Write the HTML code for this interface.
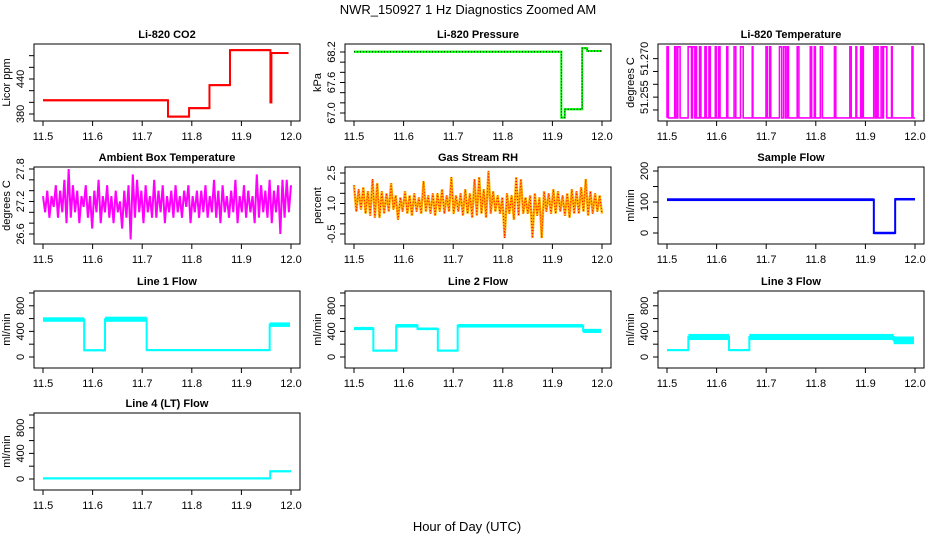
<!DOCTYPE html>
<html><head><meta charset="utf-8">
<style>
html,body{margin:0;padding:0;background:#fff;}
svg{display:block;font-family:"Liberation Sans",Arial,sans-serif;}
</style></head>
<body>
<svg id="chart" width="936" height="540" viewBox="0 0 936 540" xmlns="http://www.w3.org/2000/svg">
<rect x="0" y="0" width="936" height="540" fill="#fff"/>
<text x="468" y="14" font-size="13" text-anchor="middle">NWR_150927  1 Hz Diagnostics Zoomed AM</text>
<text x="467" y="531" font-size="13" text-anchor="middle">Hour of Day (UTC)</text>
</svg>
<script>
const xTicks=[11.5,11.6,11.7,11.8,11.9,12.0];
const xTickLabels=["11.5","11.6","11.7","11.8","11.9","12.0"];

const co2Start=[11.5,11.752,11.7945,11.8356,11.877,11.9585,11.9605];
const co2End=[11.752,11.7945,11.8356,11.877,11.9585,11.9605,11.995];
const co2Lo=[402,374,389,428,488,400,483];
const co2Hi=[405,377,391,431,491,400,486];

const presStart=[11.5,11.918,11.925,11.96,11.97];
const presEnd=[11.918,11.925,11.96,11.97,12.0];
const presLo=[68.19,66.89,67.06,68.26,68.21];
const presHi=[68.22,66.93,67.09,68.29,68.23];

const tempLow=51.2469, tempHigh=51.2746;
const tempSpikeStart=[11.5,11.5156,11.5217,11.5426,11.5514,11.5582,11.5656,11.5765,11.5846,11.5974,11.6042,11.6204,11.6353,11.6482,11.6719,11.6996,11.7070,11.7267,11.7355,11.7429,11.7625,11.7889,11.7970,11.8092,11.8376,11.8687,11.8809,11.8904,11.8931,11.9168,11.9229,11.9317,11.9364,11.9527,11.9939];
const tempSpikeEnd=[11.5027,11.5183,11.5264,11.5494,11.5562,11.5595,11.5683,11.5792,11.5873,11.5995,11.6069,11.6225,11.6387,11.6536,11.6732,11.7023,11.7091,11.7314,11.7395,11.7449,11.7659,11.7916,11.7991,11.8133,11.8403,11.8714,11.8823,11.8917,11.8958,11.9202,11.9256,11.9351,11.9432,11.9540,11.9959];

const ambValues=[27.3,27.0,27.4,26.9,27.3,27.1,27.5,26.9,27.4,27.0,27.6,26.8,27.8,26.9,27.5,27.0,27.4,26.8,27.3,27.1,27.5,26.9,27.3,26.7,27.4,27.0,27.6,26.8,27.3,27.0,27.5,26.9,27.3,26.8,27.4,27.0,27.2,26.7,27.4,26.9,27.5,26.5,27.7,26.9,27.6,27.0,27.4,26.8,27.5,27.0,27.3,26.9,27.6,26.9,27.4,27.0,27.5,26.8,27.3,27.0,27.4,26.9,27.5,27.0,27.3,26.9,27.4,27.1,27.5,26.8,27.3,27.0,27.4,26.9,27.4,27.0,27.5,26.9,27.3,27.0,27.6,26.9,27.4,26.8,27.5,27.0,27.3,26.9,27.4,27.0,27.6,26.8,27.3,27.0,27.5,26.9,27.4,27.0,27.3,26.8,27.7,26.9,27.5,27.0,27.4,26.9,27.6,26.8,27.4,27.0,27.5,26.6,27.6,26.9,27.6,27.0,27.5];

const rhValues=[1.9,0.6,1.7,0.7,1.8,0.5,1.6,0.4,2.2,0.3,2.0,0.3,1.6,0.5,1.5,0.6,2.0,0.7,1.4,0.2,1.3,0.6,1.6,0.5,1.4,0.4,1.5,0.6,1.3,0.5,2.1,0.6,1.4,0.5,1.5,0.4,1.5,0.6,1.7,0.5,1.4,0.6,2.3,0.5,1.4,0.6,1.5,0.4,1.7,0.5,1.5,0.3,2.2,0.4,2.3,0.5,1.7,0.3,2.6,0.5,1.6,0.6,1.4,0.5,1.3,-0.7,1.5,0.5,1.4,0.2,2.3,0.4,2.2,0.5,1.3,0.5,1.4,-0.7,1.5,0.4,1.3,-0.7,1.6,0.6,1.5,0.5,1.7,0.5,1.6,0.6,1.4,0.4,1.5,0.3,1.7,0.5,1.6,0.5,1.8,0.6,2.2,0.4,1.6,0.5,1.5,0.6,1.4,0.5];

const sfStart=[11.5,11.917,11.96];
const sfEnd=[11.917,11.96,12.0];
const sfLo=[103,-4,105];
const sfHi=[112,4,113];

const l1Start=[11.5,11.583,11.625,11.709,11.957];
const l1End=[11.583,11.625,11.709,11.957,11.998];
const l1Lo=[550,95,550,100,470];
const l1Hi=[620,115,630,115,540];

const l2Start=[11.5,11.539,11.585,11.628,11.669,11.709,11.962];
const l2End=[11.539,11.585,11.628,11.669,11.709,11.962,11.998];
const l2Lo=[420,95,460,420,95,460,375];
const l2Hi=[470,105,515,460,105,515,440];

const l3Start=[11.5,11.543,11.625,11.666,11.957];
const l3End=[11.543,11.625,11.666,11.957,11.998];
const l3Lo=[95,265,95,265,200];
const l3Hi=[120,360,120,360,320];

const l4Start=[11.5,11.958];
const l4End=[11.958,12.0];
const l4Lo=[5,115];
const l4Hi=[15,125];

const flowTicks=[0,200,400,600,800,1000];
const flowLabels=["0","","400","","800",""];

const NS="http://www.w3.org/2000/svg";
const svg=document.getElementById('chart');
const colLeft=[34,345,658], rowTop=[44,167,291,413], PW=266, PH=77;

function mk(tag,attrs,parent){const e=document.createElementNS(NS,tag);for(const k in attrs)e.setAttribute(k,attrs[k]);parent.appendChild(e);return e;}

function makePanel(col,row,title,ylab,ylim,yticks,ylabels,name){
  const L=colLeft[col],T=rowTop[row];
  const g=mk('g',{},svg);
  
  
  const xs=v=>L+9+(v-11.5)/0.5*(PW-18);
  const ys=v=>T+(ylim[1]-v)/(ylim[1]-ylim[0])*PH;
  const cid='clip-'+name;
  const cp=mk('clipPath',{id:cid},g);
  mk('rect',{x:L,y:T,width:PW,height:PH},cp);
  const plot=mk('g',{'clip-path':'url(#'+cid+')'},g);
  
  
  const box=mk('rect',{x:L,y:T,width:PW,height:PH,fill:'none',stroke:'#000','stroke-width':1},g);
  
  
  const t=mk('text',{x:L+PW/2,y:T-6,'font-size':11,'font-weight':'bold','text-anchor':'middle'},g);
  t.textContent=title;
  
  
  const xa=mk('g',{},g);
  
  
  const B=T+PH;
  mk('line',{x1:xs(xTicks[0]),y1:B,x2:xs(xTicks[xTicks.length-1]),y2:B,stroke:'#000'},xa);
  xTicks.forEach((v,i)=>{
    mk('line',{x1:xs(v),y1:B,x2:xs(v),y2:B+5,stroke:'#000'},xa);
    const tl=mk('text',{x:xs(v),y:B+19,'font-size':11,'text-anchor':'middle'},xa);
    tl.textContent=xTickLabels[i];
    
    
  });
  const ya=mk('g',{},g);
  
  
  mk('line',{x1:L,y1:ys(yticks[0]),x2:L,y2:ys(yticks[yticks.length-1]),stroke:'#000'},ya);
  yticks.forEach((v,i)=>{
    mk('line',{x1:L-5,y1:ys(v),x2:L,y2:ys(v),stroke:'#000'},ya);
    if(ylabels[i]){
      const yl=mk('text',{x:0,y:0,'font-size':11,'text-anchor':'middle',transform:'translate('+(L-10)+','+ys(v)+') rotate(-90)'},ya);
      yl.textContent=ylabels[i];
      
      
    }
  });
  const yt=mk('text',{x:0,y:0,'font-size':11,'text-anchor':'middle',transform:'translate('+(L-24)+','+(T+PH/2)+') rotate(-90)'},g);
  yt.textContent=ylab;
  
  
  return {plot,xs,ys};
}

function steps(p,starts,ends,lo,hi,color,name,dotted){
  let d='';
  starts.forEach((s,i)=>{
    const y1=p.ys(hi[i]),y2=p.ys(lo[i]);
    const h=Math.max(2,y2-y1);
    const r=mk('rect',{x:p.xs(s),y:(y1+y2)/2-h/2,width:Math.max(1,p.xs(ends[i])-p.xs(s)),height:h,fill:color},p.plot);
    
    
    const mid=p.ys((lo[i]+hi[i])/2);
    d+=(i===0?'M':'L')+p.xs(s)+','+mid+'L'+p.xs(ends[i])+','+mid;
  });
  const pth=mk('path',{d:d,fill:'none',stroke:color,'stroke-width':2},p.plot);
  
  
  if(dotted){
    const dp=mk('path',{d:d,fill:'none',stroke:'#000','stroke-width':1,'stroke-dasharray':'1,2'},p.plot);
    
    
  }
}

function series(p,vals,color,width,name,dash){
  const n=vals.length;
  let d='';
  vals.forEach((v,i)=>{const x=11.5+0.5*i/(n-1);d+=(i?'L':'M')+p.xs(x).toFixed(2)+','+p.ys(v).toFixed(2);});
  const pth=mk('path',{d:d,fill:'none',stroke:color,'stroke-width':width},p.plot);
  if(dash)pth.setAttribute('stroke-dasharray',dash);
  
  
}

let p=makePanel(0,0,'Li-820 CO2','Licor ppm',[368,500],[380,400,420,440,460,480],['380','','','440','',''],'co2');
steps(p,co2Start,co2End,co2Lo,co2Hi,'#ff0000','co2');

p=makePanel(1,0,'Li-820 Pressure','kPa',[66.843,68.357],[67.0,67.2,67.4,67.6,67.8,68.0,68.2],['67.0','','','67.6','','','68.2'],'pressure');
steps(p,presStart,presEnd,presLo,presHi,'#00ff00','pressure',true);

p=makePanel(2,0,'Li-820 Temperature','degrees C',[51.2457,51.2757],[51.250,51.255,51.260,51.265,51.270],['','51.255','','','51.270'],'temperature');
{
  let d='M'+p.xs(11.5)+','+p.ys(tempLow);
  tempSpikeStart.forEach((s,i)=>{
    d+='L'+p.xs(s)+','+p.ys(tempLow)+'L'+p.xs(s)+','+p.ys(tempHigh)+'L'+p.xs(tempSpikeEnd[i])+','+p.ys(tempHigh)+'L'+p.xs(tempSpikeEnd[i])+','+p.ys(tempLow);
  });
  d+='L'+p.xs(12.0)+','+p.ys(tempLow);
  const pth=mk('path',{d:d,fill:'none',stroke:'#ff00ff','stroke-width':1.6},p.plot);
  
  
}

p=makePanel(0,1,'Ambient Box Temperature','degrees C',[26.415,27.837],[26.6,26.8,27.0,27.2,27.4,27.6,27.8],['26.6','','','27.2','','','27.8'],'ambient');
series(p,ambValues,'#ff00ff',2,'ambient-temperature-line');

p=makePanel(1,1,'Gas Stream RH','percent',[-0.992,2.795],[-0.5,0,0.5,1.0,1.5,2.0,2.5],['-0.5','','','1.0','','','2.5'],'rh');
series(p,rhValues,'#ffb000',2.4,'rh-line');
series(p,rhValues,'#ff0000',1,'rh-dotted-line','1,2');

p=makePanel(2,1,'Sample Flow','ml/min',[-35.5,212.9],[0,50,100,150,200],['0','','100','','200'],'sample-flow');
steps(p,sfStart,sfEnd,sfLo,sfHi,'#0000ff','sample-flow');

p=makePanel(0,2,'Line 1 Flow','ml/min',[-172,1031],flowTicks,flowLabels,'line1');
steps(p,l1Start,l1End,l1Lo,l1Hi,'#00ffff','line1-flow');
p=makePanel(1,2,'Line 2 Flow','ml/min',[-172,1031],flowTicks,flowLabels,'line2');
steps(p,l2Start,l2End,l2Lo,l2Hi,'#00ffff','line2-flow');
p=makePanel(2,2,'Line 3 Flow','ml/min',[-172,1031],flowTicks,flowLabels,'line3');
steps(p,l3Start,l3End,l3Lo,l3Hi,'#00ffff','line3-flow');
p=makePanel(0,3,'Line 4 (LT) Flow','ml/min',[-172,1031],flowTicks,flowLabels,'line4');
steps(p,l4Start,l4End,l4Lo,l4Hi,'#00ffff','line4-flow');
</script>
</body></html>
